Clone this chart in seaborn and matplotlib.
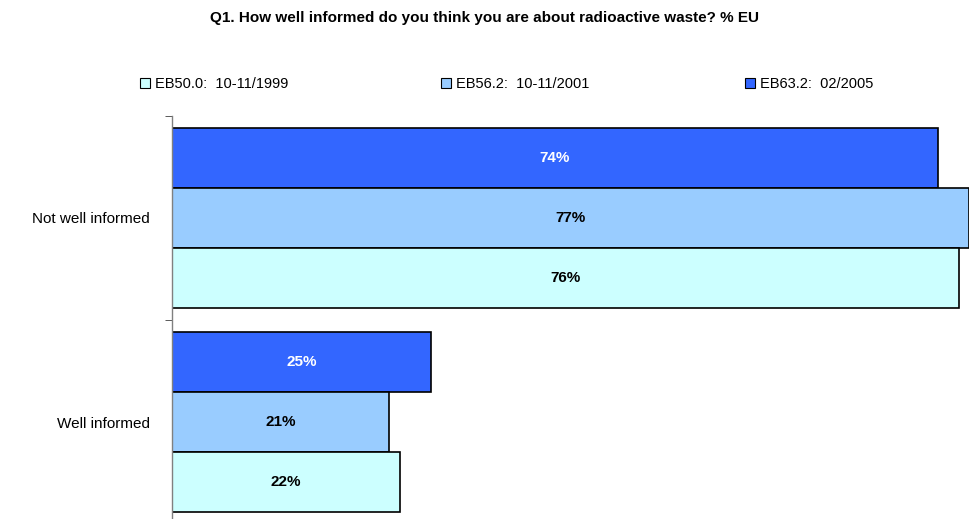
import pandas as pd
import matplotlib
matplotlib.use("Agg")
import matplotlib.pyplot as plt
import seaborn as sns
from matplotlib.patches import Patch
from matplotlib.ticker import FixedLocator

kategorie = ["Not well informed", "Well informed"]
fale = ["EB50.0:  10-11/1999", "EB56.2:  10-11/2001", "EB63.2:  02/2005"]
wartosci_1999 = [76, 22]
wartosci_2001 = [77, 21]
wartosci_2005 = [74, 25]
kolory = ["#CCFFFF", "#99CCFF", "#3366FF"]
kolory_etykiet = ["black", "black", "white"]

df = pd.DataFrame({
    "kategoria": kategorie * 3,
    "fala": [fale[0]] * 2 + [fale[1]] * 2 + [fale[2]] * 2,
    "procent": wartosci_1999 + wartosci_2001 + wartosci_2005,
})

sns.set_style("white")
plt.rcParams["font.family"] = ["Liberation Sans", "DejaVu Sans"]
plt.rcParams["text.color"] = "black"

fig = plt.figure(figsize=(9.69, 5.19), dpi=100)
ax = fig.add_axes([172 / 969, -5 / 519, 797 / 969, 408 / 519])

# kolejnosc od gory: 2005, 2001, 1999
kolejnosc = fale[::-1]
paleta = dict(zip(fale, kolory))
sns.barplot(data=df, x="procent", y="kategoria", hue="fala", hue_order=kolejnosc,
            order=kategorie, palette=paleta, orient="h", width=0.882,
            edgecolor="black", linewidth=1.2, saturation=1, legend=False, ax=ax)

kolor_tekstu = dict(zip(fale, kolory_etykiet))
for kontener, fala in zip(ax.containers, kolejnosc):
    ax.bar_label(kontener, labels=[f"{int(v)}%" for v in kontener.datavalues],
                 label_type="center", color=kolor_tekstu[fala],
                 fontsize=11, fontweight="bold")

ax.set_xlim(0, 77)
ax.set_ylim(1.5, -0.5)
ax.set_xlabel("")
ax.set_ylabel("")
ax.set_xticks([])
for s in ["top", "right", "bottom"]:
    ax.spines[s].set_visible(False)
ax.spines["left"].set_color("#808080")
ax.spines["left"].set_linewidth(1)
ax.yaxis.set_minor_locator(FixedLocator([-0.5, 0.5, 1.5]))
ax.tick_params(axis="y", which="major", length=0, pad=16, labelsize=11,
               labelcolor="black")
ax.tick_params(axis="y", which="minor", length=5, color="#404040", left=True)

fig.text(0.5, 1 - 18 / 519,
         "Q1. How well informed do you think you are about radioactive waste? % EU",
         ha="center", va="center", fontsize=11, fontweight="bold")

pozycje = [140, 441, 745]
for fala, kolor, x in zip(fale, kolory, pozycje):
    uchwyt = Patch(facecolor=kolor, edgecolor="black", linewidth=0.8)
    fig.legend(handles=[uchwyt], labels=[fala], loc="center left",
               bbox_to_anchor=(x / 969, 1 - 84 / 519), frameon=False,
               fontsize=10.5, handlelength=0.7, handleheight=0.7,
               handletextpad=0.3, borderaxespad=0, borderpad=0)

fig.savefig("out.png", dpi=100)
